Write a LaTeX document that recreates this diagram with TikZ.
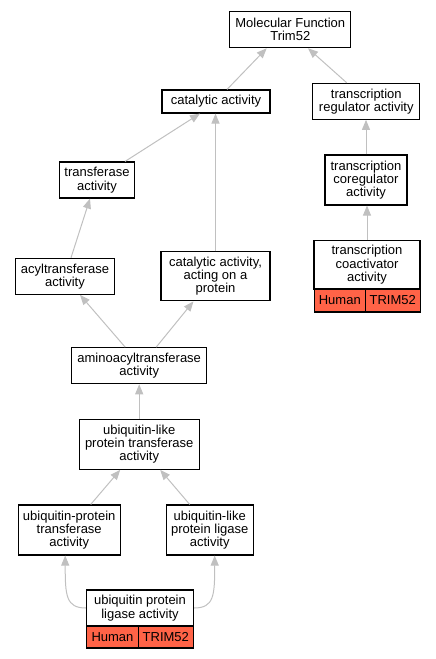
\documentclass[tikz,border=0pt]{standalone}
\usepackage{fontspec}
\setmainfont{Liberation Sans}
\usetikzlibrary{arrows.meta,calc}
\definecolor{edgegray}{RGB}{192,192,192}
\definecolor{tomatofill}{RGB}{255,99,71}
\tikzset{
  box/.style={draw=black, line width=1.1pt, fill=white, inner sep=0pt, align=center,
    font=\fontsize{13}{13.3}\selectfont},
  cell/.style={box, fill=tomatofill},
  edge/.style={draw=edgegray, line width=1pt, -{Triangle[length=10pt,width=8pt,fill=edgegray]}}
}
\begin{document}
\begin{tikzpicture}[x=1pt,y=-1pt]
\useasboundingbox (0,0) rectangle (436,659);
% nodes
\node[box, minimum width=121pt, minimum height=36pt] (mf) at (290.3,29.7) {Molecular Function\\Trim52};
\node[box, minimum width=108pt, minimum height=23pt] (cat) at (216,101.5) {catalytic activity};
\node[box, minimum width=107pt, minimum height=36pt] (reg) at (366.3,101.3) {transcription\\regulator activity};
\node[box, minimum width=75pt, minimum height=36pt] (tr) at (97,180) {transferase\\activity};
\node[box, minimum width=82pt, minimum height=50pt] (coreg) at (366,180) {transcription\\coregulator\\activity};
\node[box, minimum width=99pt, minimum height=36pt] (acyl) at (65,276.3) {acyltransferase\\activity};
\node[box, minimum width=109pt, minimum height=49pt] (acting) at (215.5,276.3) {catalytic activity,\\acting on a\\protein};
\node[box, minimum width=106pt, minimum height=48.5pt] (coact) at (367,264.9) {transcription\\coactivator\\activity};
\node[cell, minimum width=51pt, minimum height=23pt] (coacth) at (339.8,300.5) {Human};
\node[cell, minimum width=54.7pt, minimum height=23pt] (coactt) at (392.7,300.5) {TRIM52};
\node[box, minimum width=135pt, minimum height=36pt] (amino) at (139.2,365.7) {aminoacyltransferase\\activity};
\node[box, minimum width=120pt, minimum height=50pt] (ubltr) at (139.2,444.3) {ubiquitin-like\\protein transferase\\activity};
\node[box, minimum width=102pt, minimum height=50pt] (ubpt) at (69.2,530) {ubiquitin-protein\\transferase\\activity};
\node[box, minimum width=87pt, minimum height=50pt] (ubllig) at (209.7,530) {ubiquitin-like\\protein ligase\\activity};
\node[box, minimum width=107pt, minimum height=36pt] (ubpl) at (140,608) {ubiquitin protein\\ligase activity};
\node[cell, minimum width=51.6pt, minimum height=22pt] (ubplh) at (112.5,637) {Human};
\node[cell, minimum width=55pt, minimum height=22pt] (ubplt) at (165.8,637) {TRIM52};
% edges
\draw[edge] ($(cat.north)+(11,0)$) -- ($(mf.south)+(-23.6,0)$);
\draw[edge] ($(reg.north)+(-19.6,0)$) -- ($(mf.south)+(17.7,0)$);
\draw[edge] (coreg.north) -- (coreg.north |- reg.south);
\draw[edge] (coact.north) -- (coact.north |- coreg.south);
\draw[edge] ($(tr.north)+(28,0)$) -- ($(cat.south)+(-16,0)$);
\draw[edge] (acting.north) -- (acting.north |- cat.south);
\draw[edge] ($(acyl.north)+(6,0)$) -- ($(tr.south)+(-7,0)$);
\draw[edge] ($(amino.north)+(-14,0)$) -- ($(acyl.south)+(15,0)$);
\draw[edge] ($(amino.north)+(17,0)$) -- ($(acting.south)+(-22,0)$);
\draw[edge] (ubltr.north) -- (ubltr.north |- amino.south);
\draw[edge] ($(ubpt.north)+(21.5,0)$) -- ($(ubltr.south)+(-19,0)$);
\draw[edge] ($(ubllig.north)+(-20,0)$) -- ($(ubltr.south)+(21,0)$);
\draw[edge] (ubpl.west) .. controls ($(ubpl.west)+(-20,0)$) and ($(ubpt.south)+(-4,40)$) .. ($(ubpt.south)+(-4,0)$);
\draw[edge] (ubpl.east) .. controls ($(ubpl.east)+(20,0)$) and ($(ubllig.south)+(5,40)$) .. ($(ubllig.south)+(5,0)$);
\end{tikzpicture}
\end{document}
